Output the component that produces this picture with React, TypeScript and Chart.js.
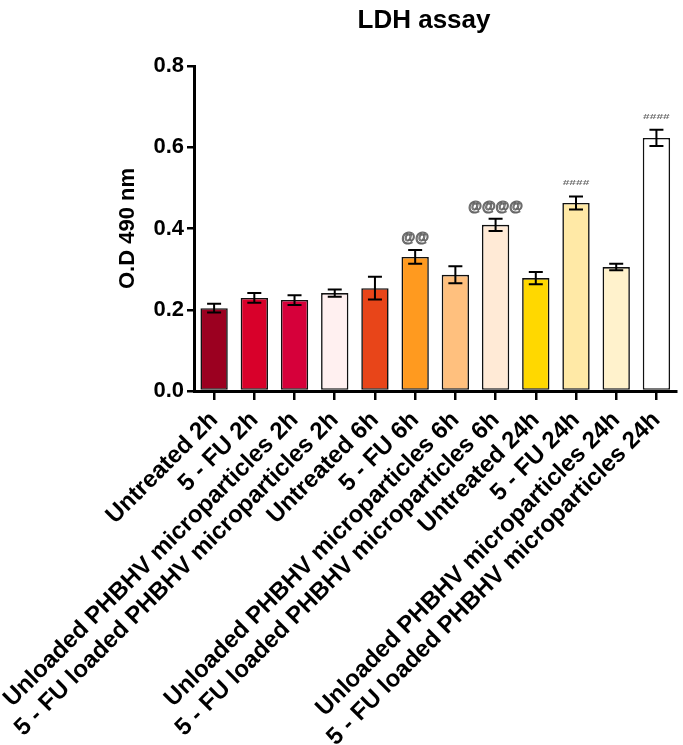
import React, { useEffect, useRef } from "react";
import { Chart, registerables } from "chart.js";

Chart.register(...registerables);

const categories = [
  "Untreated 2h",
  "5 - FU 2h",
  "Unloaded PHBHV microparticles 2h",
  "5 - FU loaded PHBHV microparticles 2h",
  "Untreated 6h",
  "5 - FU 6h",
  "Unloaded PHBHV microparticles 6h",
  "5 - FU loaded PHBHV microparticles 6h",
  "Untreated 24h",
  "5 - FU 24h",
  "Unloaded PHBHV microparticles 24h",
  "5 - FU loaded PHBHV microparticles 24h",
];

const means = [0.204, 0.229, 0.224, 0.241, 0.253, 0.330, 0.286, 0.409, 0.278, 0.463, 0.305, 0.623];
const errors = [0.011, 0.012, 0.012, 0.009, 0.028, 0.017, 0.021, 0.015, 0.015, 0.016, 0.008, 0.020];
const annotations = ["", "", "", "", "", "@@", "", "@@@@", "", "####", "", "####"];
const barColors = [
  "#9b0020",
  "#d8002a",
  "#d6003a",
  "#fff0f0",
  "#e84519",
  "#ff9a1f",
  "#ffc07e",
  "#ffead6",
  "#ffd800",
  "#ffe9a6",
  "#fff2cc",
  "#ffffff",
];
const yTicks = [0, 0.2, 0.4, 0.6, 0.8];

const FONT = "'Liberation Sans', Arial, sans-serif";

const overlayPlugin = {
  id: "overlay",
  afterDatasetsDraw(chart: any) {
    const ctx = chart.ctx;
    const meta = chart.getDatasetMeta(0);
    const y = chart.scales.y;
    ctx.save();
    // error bars
    ctx.strokeStyle = "#000";
    ctx.lineWidth = 2;
    meta.data.forEach((bar: any, i: number) => {
      const x = bar.x;
      const top = y.getPixelForValue(means[i] + errors[i]);
      const bot = y.getPixelForValue(means[i] - errors[i]);
      ctx.beginPath();
      ctx.moveTo(x, top);
      ctx.lineTo(x, bot);
      ctx.moveTo(x - 7, top);
      ctx.lineTo(x + 7, top);
      ctx.moveTo(x - 7, bot);
      ctx.lineTo(x + 7, bot);
      ctx.stroke();
      const a = annotations[i];
      if (a) {
        ctx.save();
        ctx.textAlign = "center";
        ctx.textBaseline = "middle";
        if (a.startsWith("@")) {
          ctx.font = `bold 14px ${FONT}`;
          ctx.fillStyle = "#e0e0e0";
          ctx.strokeStyle = "#666";
          ctx.lineWidth = 1;
          ctx.fillText(a, x, top - 12);
          ctx.strokeText(a, x, top - 12);
        } else {
          ctx.translate(x, top - 13);
          ctx.scale(1, 0.55);
          ctx.font = `bold 12px ${FONT}`;
          ctx.fillStyle = "#707070";
          ctx.fillText(a, 0, 0);
        }
        ctx.restore();
      }
    });
    // title
    ctx.fillStyle = "#000";
    ctx.textAlign = "center";
    ctx.textBaseline = "alphabetic";
    ctx.font = `bold 26px ${FONT}`;
    ctx.fillText("LDH assay", 424, 28);
    // y axis title
    ctx.save();
    ctx.translate(128, (chart.chartArea.top + chart.chartArea.bottom) / 2);
    ctx.rotate(-Math.PI / 2);
    ctx.font = `bold 22px ${FONT}`;
    ctx.textBaseline = "middle";
    ctx.fillText("O.D 490 nm", 0, 0);
    ctx.restore();
    ctx.restore();
  },
};

export default function App() {
  const ref = useRef<HTMLCanvasElement>(null);
  useEffect(() => {
    if (!ref.current) return;
    const chart = new Chart(ref.current, {
      type: "bar",
      data: {
        labels: categories,
        datasets: [
          {
            data: means,
            backgroundColor: barColors,
            borderColor: "#111",
            borderWidth: 1.6,
            borderSkipped: false,
            categoryPercentage: 1,
            barPercentage: 0.68,
          },
        ],
      },
      options: {
        animation: false,
        responsive: true,
        maintainAspectRatio: false,
        layout: { padding: { top: 66, right: 5, left: 0, bottom: 0 } },
        plugins: {
          legend: { display: false },
          tooltip: { enabled: false },
          title: { display: false },
        },
        scales: {
          x: {
            grid: {
              display: true,
              offset: false,
              drawOnChartArea: false,
              drawTicks: true,
              tickLength: 9,
              color: "#000",
              lineWidth: 2.5,
            },
            border: { display: true, color: "#000", width: 3 },
            ticks: {
              color: "#000",
              font: { family: FONT, size: 24, weight: "bold" },
              minRotation: 45,
              maxRotation: 45,
              autoSkip: false,
              padding: 6,
            },
            afterFit: (axis: any) => {
              axis.height = 354;
            },
          },
          y: {
            min: 0,
            max: 0.8,
            afterBuildTicks: (axis: any) => {
              axis.ticks = yTicks.map((v) => ({ value: v }));
            },
            grid: {
              display: true,
              drawOnChartArea: false,
              drawTicks: true,
              tickLength: 7,
              color: "#000",
              lineWidth: 2.5,
            },
            border: { display: true, color: "#000", width: 3 },
            ticks: {
              color: "#000",
              font: { family: FONT, size: 22, weight: "bold" },
              padding: 3,
              callback: (v: any) => Number(v).toFixed(1),
            },
            afterFit: (axis: any) => {
              axis.width = 194;
            },
          },
        },
      },
      plugins: [overlayPlugin],
    });
    return () => chart.destroy();
  }, []);
  return (
    <div style={{ position: "fixed", left: 0, top: 0, width: 683, height: 745, background: "#fff" }}>
      <canvas ref={ref} />
    </div>
  );
}
